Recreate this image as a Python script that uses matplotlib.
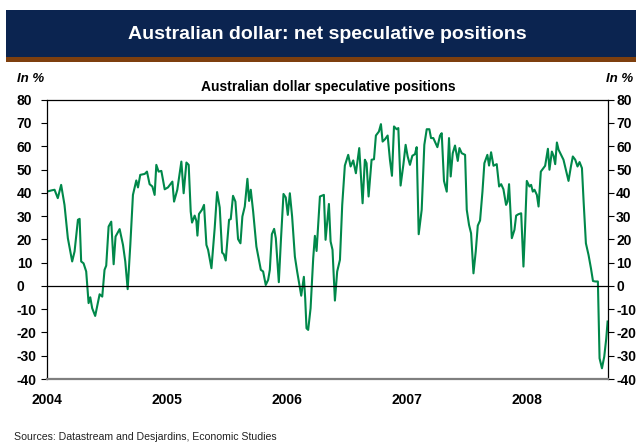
import matplotlib.pyplot as plt
from matplotlib.patches import Rectangle

plt.rcParams['font.family'] = ['Liberation Sans', 'DejaVu Sans']
plt.rcParams['axes.unicode_minus'] = False

# weekly net speculative positions (years after 2004, % of open interest)
t_offset = [
    0.000, 0.035, 0.063, 0.090, 0.118, 0.146, 0.174, 0.210, 0.230, 0.258,
    0.272, 0.285, 0.305, 0.327, 0.347, 0.361, 0.377, 0.402, 0.439, 0.461,
    0.480, 0.494, 0.514, 0.536, 0.556, 0.572, 0.606, 0.634, 0.653, 0.673,
    0.695, 0.717, 0.745, 0.759, 0.778, 0.815, 0.834, 0.856, 0.879, 0.898,
    0.912, 0.931, 0.954, 0.982, 1.009, 1.046, 1.060, 1.087, 1.121, 1.140,
    1.163, 1.182,
    1.199, 1.210, 1.232, 1.246, 1.255, 1.268, 1.293, 1.310, 1.330, 1.344,
    1.372, 1.399, 1.419, 1.441, 1.461, 1.475, 1.491, 1.519, 1.533, 1.552,
    1.572, 1.594, 1.614, 1.630, 1.650, 1.672, 1.686, 1.700, 1.720, 1.747,
    1.784, 1.803, 1.825, 1.845, 1.859, 1.876, 1.895, 1.909, 1.934, 1.951,
    1.973, 1.992, 2.009, 2.026, 2.045, 2.068, 2.087, 2.104, 2.121, 2.143,
    2.154, 2.165, 2.179,
    2.199, 2.221, 2.235, 2.249, 2.277, 2.310, 2.324, 2.352, 2.366, 2.382,
    2.402, 2.421, 2.444, 2.463, 2.485, 2.513, 2.533, 2.555, 2.577, 2.605,
    2.633, 2.652, 2.666, 2.683, 2.708, 2.728, 2.744, 2.769, 2.786, 2.800,
    2.820, 2.842, 2.861, 2.878, 2.895, 2.917, 2.931, 2.950, 2.973, 2.992,
    3.009, 3.028, 3.048, 3.070, 3.084, 3.101, 3.126, 3.148, 3.168, 3.190,
    3.204, 3.223, 3.257, 3.279, 3.293, 3.312, 3.335, 3.354, 3.368, 3.385,
    3.404, 3.427, 3.441, 3.460, 3.488, 3.502, 3.521, 3.538, 3.558, 3.577,
    3.594, 3.613, 3.633, 3.649, 3.674, 3.688, 3.705, 3.725, 3.752, 3.772,
    3.789, 3.808, 3.830, 3.842, 3.855, 3.878, 3.900, 3.914, 3.933, 3.956,
    3.975, 3.989, 4.003, 4.025, 4.039, 4.053, 4.067, 4.087, 4.101, 4.120,
    4.156, 4.179, 4.192,
    4.212, 4.226, 4.240, 4.254, 4.268, 4.282, 4.309, 4.329, 4.351, 4.371,
    4.387, 4.407, 4.426, 4.443, 4.463, 4.477, 4.496, 4.518, 4.538, 4.555,
    4.574, 4.596, 4.610, 4.630, 4.649, 4.666, 4.677,
]
positions = [
    40.5, 41.0, 41.3, 37.7, 43.4, 34.8, 20.5, 10.5, 14.8, 28.4,
    28.8, 10.5, 9.7, 6.2, -7.4, -4.9, -9.6, -12.9, -3.6, -4.6,
    6.9, 8.7, 25.5, 27.6, 9.3, 21.2, 24.4, 17.6, 10.5, -1.4,
    17.6, 39.1, 45.3, 42.3, 47.7, 48.1, 49.1, 43.7, 42.7, 39.1,
    52.0, 49.1, 49.4, 41.5, 42.3, 44.8, 36.2, 41.3, 53.4, 39.8,
    53.0, 52.0,
    31.9, 27.2, 30.2, 27.9, 21.6, 30.9, 32.7, 34.8, 17.6, 15.5,
    7.6, 24.8, 40.3, 33.7, 14.3, 13.6, 10.9, 28.4, 28.7, 38.7,
    36.2, 20.1, 18.3, 29.8, 34.1, 46.0, 36.5, 41.3, 31.9, 16.9,
    6.9, 6.2, 0.4, 2.6, 6.9, 22.2, 24.5, 20.5, 1.6, 19.1,
    39.5, 38.0, 30.5, 39.8, 29.8, 12.6, 6.2, 0.9, -4.2, 3.9,
    -5.3, -18.2, -18.9,
    -9.6, 11.9, 21.5, 15.0, 38.4, 39.1, 19.8, 35.2, 19.1, 15.5,
    -6.3, 6.2, 11.2, 34.8, 51.7, 56.3, 51.3, 53.9, 48.4, 59.2,
    35.5, 54.2, 52.7, 38.4, 54.2, 54.4, 64.6, 66.3, 69.5, 62.0,
    63.0, 64.6, 54.2, 47.3, 68.5, 67.3, 67.8, 43.1, 52.0, 60.6,
    55.6, 52.0, 55.9, 56.6, 59.6, 22.2, 32.7, 60.6, 67.3, 67.3,
    63.5, 63.5, 59.6, 64.6, 65.6, 45.1, 40.5, 63.5, 47.0, 57.0,
    60.3, 53.7, 59.2, 57.0, 56.3, 32.7, 26.2, 22.6, 5.4, 14.8,
    25.9, 28.1, 40.5, 52.7, 56.3, 51.7, 57.4, 51.6, 52.3, 42.7,
    43.7, 41.5, 34.8, 36.2, 43.7, 20.5, 24.1, 30.2, 30.8, 31.2,
    8.3, 25.5, 45.1, 42.7, 43.4, 40.5, 41.3, 39.1, 34.1, 49.1,
    51.6, 58.9, 49.9,
    57.7, 55.9, 52.3, 61.6, 58.5, 57.0, 54.2, 49.9, 45.1, 51.3,
    55.6, 54.2, 51.3, 53.2, 50.6, 36.2, 18.3, 13.3, 7.6, 2.1,
    1.9, 1.9, -31.1, -35.4, -30.4, -22.5, -15.3,
]
dates = [2004 + t for t in t_offset]

years = [2004, 2005, 2006, 2007, 2008]
y_ticks = list(range(-40, 81, 10))

fig = plt.figure(figsize=(6.36, 4.42), dpi=100)

# title banner
fig.add_artist(Rectangle((0.0094, 0.869), 0.9906, 0.108, transform=fig.transFigure,
                         facecolor='#0b2450', edgecolor='none'))
fig.add_artist(Rectangle((0.0094, 0.860), 0.9906, 0.010, transform=fig.transFigure,
                         facecolor='#7e3f0e', edgecolor='none'))
fig.text(0.515, 0.921, 'Australian dollar: net speculative positions', color='white',
         fontsize=14, fontweight='bold', ha='center', va='center')

ax = fig.add_axes([0.0739, 0.1425, 0.882, 0.632])
ax.plot(dates, positions, color='#00884a', lw=1.5)
ax.axhline(0, color='black', lw=0.9)

ax.set_xlim(2004, 2008.68)
ax.set_ylim(-40, 80)
ax.set_yticks(y_ticks)
ax.set_xticks(years)
ax.set_xticklabels([str(y) for y in years])
ax.tick_params(axis='y', left=True, right=True, labelleft=True, labelright=True,
               direction='out', length=4, width=0.8, labelsize=10)
ax.tick_params(axis='x', length=0, labelsize=10, pad=10)
for lab in ax.get_xticklabels():
    lab.set_fontweight('bold')

# y labels sit left aligned on both sides, as in the original
ytrans = ax.get_yaxis_transform()
for tk in ax.yaxis.get_major_ticks():
    tk.label1.set_fontweight('bold')
    tk.label1.set_horizontalalignment('left')
    tk.label1.set_transform(ytrans)
    tk.label1.set_x(-0.054)
    tk.label2.set_fontweight('bold')
    tk.label2.set_horizontalalignment('left')
    tk.label2.set_transform(ytrans)
    tk.label2.set_x(1.0145)

for s in ['left', 'right', 'top']:
    ax.spines[s].set_color('black')
    ax.spines[s].set_linewidth(0.9)
ax.spines['bottom'].set_color('#7f7f7f')
ax.spines['bottom'].set_linewidth(1.6)

fig.text(0.027, 0.835, 'In %', fontsize=9.5, fontweight='bold', style='italic',
         ha='left', va='top')
fig.text(0.996, 0.835, 'In %', fontsize=9.5, fontweight='bold', style='italic',
         ha='right', va='top')
fig.text(0.517, 0.803, 'Australian dollar speculative positions', fontsize=10,
         fontweight='bold', ha='center', va='center')
fig.text(0.022, 0.0102, 'Sources: Datastream and Desjardins, Economic Studies',
         fontsize=7.6, color='#222222', ha='left', va='center')

fig.savefig('out.png', dpi=100)
